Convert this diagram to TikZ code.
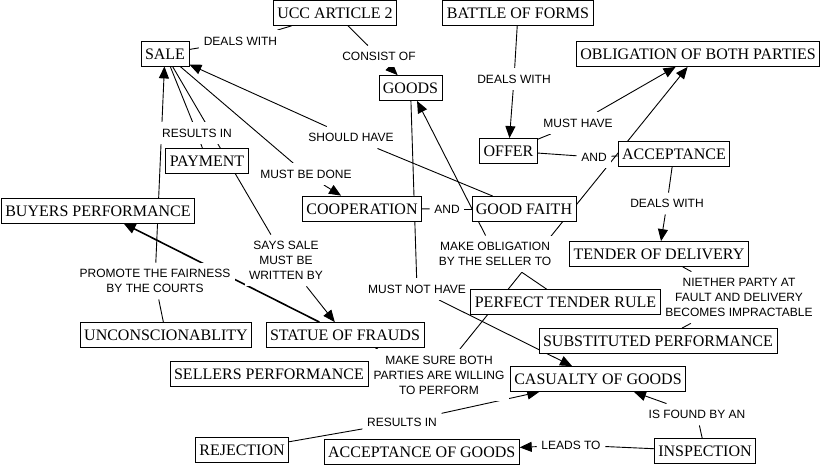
\documentclass[tikz,border=0pt]{standalone}
\usepackage{fontspec}
\setmainfont{Liberation Serif}
\newfontfamily\lblfont{Liberation Sans}
\usetikzlibrary{arrows.meta}
\pgfdeclarelayer{bg}
\pgfsetlayers{bg,main}
\begin{document}
\begin{tikzpicture}[x=1pt,y=-1pt,
  concept/.style={draw,fill=white,line width=0.8pt,font=\fontsize{16}{18}\selectfont,
    inner xsep=4pt,inner ysep=0pt,minimum height=25pt,text height=11pt,text depth=0pt},
  lbl/.style={fill=white,font=\lblfont\fontsize{12}{15}\selectfont,align=center,
    inner xsep=4.5pt,inner ysep=6.5pt},
  link/.style={line width=0.9pt},
  arr/.style={link,-{Triangle[length=12pt,width=10pt]}},
  thickarr/.style={line width=1.6pt,-{Triangle[length=12pt,width=10pt]}}]
\useasboundingbox (0,0) rectangle (825,467);
% concepts
\node[concept] (ucc) at (335,13) {UCC ARTICLE 2};
\node[concept] (sale) at (165,53.5) {SALE};
\node[concept] (goods) at (410.5,88) {GOODS};
\node[concept] (payment) at (207,161) {PAYMENT};
\node[concept] (buyers) at (98,210.5) {BUYERS PERFORMANCE};
\node[concept] (coop) at (362,208.5) {COOPERATION};
\node[concept] (gf) at (524,209) {GOOD FAITH};
\node[concept] (bof) at (518,13) {BATTLE OF FORMS};
\node[concept] (obp) at (698,54) {OBLIGATION OF BOTH PARTIES};
\node[concept] (offer) at (508.5,151) {OFFER};
\node[concept] (accept) at (674,153.5) {ACCEPTANCE};
\node[concept] (tender) at (659,254) {TENDER OF DELIVERY};
\node[concept] (ptr) at (565.5,302) {PERFECT TENDER RULE};
\node[concept] (sub) at (658,341) {SUBSTITUTED PERFORMANCE};
\node[concept] (cas) at (598,379) {CASUALTY OF GOODS};
\node[concept] (insp) at (705,451) {INSPECTION};
\node[concept] (aog) at (421.7,452) {ACCEPTANCE OF GOODS};
\node[concept] (rej) at (242,450) {REJECTION};
\node[concept] (unc) at (166,335) {UNCONSCIONABLITY};
\node[concept] (sof) at (345,335) {STATUE OF FRAUDS};
\node[concept] (sp) at (269,374) {SELLERS PERFORMANCE};
% linking phrases
\node[lbl] (l1) at (240.5,41) {DEALS WITH};
\node[lbl] (l2) at (379,56.5) {CONSIST OF};
\node[lbl] (l3) at (514,79) {DEALS WITH};
\node[lbl] (l4) at (578,123) {MUST HAVE};
\node[lbl] (l5) at (594,157) {AND};
\node[lbl] (l6) at (667,203.5) {DEALS WITH};
\node[lbl] (l7) at (197,133) {RESULTS IN};
\node[lbl] (l8) at (351,137.5) {SHOULD HAVE};
\node[lbl] (l9) at (306,174) {MUST BE DONE};
\node[lbl] (l10) at (447,209) {AND};
\node[lbl] (l11) at (286,260.5) {SAYS SALE\\MUST BE\\WRITTEN BY};
\node[lbl] (l12) at (155,281) {PROMOTE THE FAIRNESS\\BY THE COURTS};
\node[lbl] (l13) at (417,289) {MUST NOT HAVE};
\node[lbl] (l14) at (495,254) {MAKE OBLIGATION\\BY THE SELLER TO};
\node[lbl] (l15) at (739,297.5) {NIETHER PARTY AT\\FAULT AND DELIVERY\\BECOMES IMPRACTABLE};
\node[lbl] (l16) at (439,375) {MAKE SURE BOTH\\PARTIES ARE WILLING\\TO PERFORM};
\node[lbl] (l17) at (402,422) {RESULTS IN};
\node[lbl] (l18) at (697,414.5) {IS FOUND BY AN};
\node[lbl] (l19) at (571,445) {LEADS TO};
\begin{pgfonlayer}{bg}
\fill[white] (0,0) rectangle (825,467);
\draw[link] (ucc) -- (l1);
\draw[link] (l1) -- (sale);
\draw[link] (ucc) -- (l2);
\draw[arr] (l2) -- (goods);
\draw[link] (bof) -- (l3);
\draw[arr] (l3) -- (offer);
\draw[link] (offer) -- (l4);
\draw[arr] (l4) -- (obp);
\draw[link] (offer) -- (l5);
\draw[link] (l5) -- (accept);
\draw[link] (accept) -- (l6);
\draw[arr] (l6) -- (tender);
\draw[link] (tender) -- (l15);
\draw[link] (l15) -- (sub);
\draw[link] (sale) -- (l7);
\draw[link] (l7) -- (payment);
\draw[link] (sale) -- (l11);
\draw[arr] (l11) -- (sof);
\draw[link] (sale) -- (l9);
\draw[arr] (l9) -- (coop);
\draw[link] (gf) -- (l8);
\draw[arr] (l8) -- (sale);
\draw[link] (unc) -- (l12);
\draw[arr] (l12) -- (sale);
\draw[thickarr] (sof) -- (buyers);
\draw[link] (coop) -- (l10);
\draw[link] (l10) -- (gf);
\draw[link] (goods) -- (l13);
\draw[arr] (l13) -- (cas);
\draw[link] (ptr) -- (l14);
\draw[arr] (l14) -- (goods);
\draw[link] (sof) -- (l16);
\draw[arr] (l16) -- (obp);
\draw[link] (rej) -- (l17);
\draw[arr] (l17) -- (cas);
\draw[link] (insp) -- (l18);
\draw[arr] (l18) -- (cas);
\draw[link] (insp) -- (l19);
\draw[arr] (l19) -- (aog);
\end{pgfonlayer}
\end{tikzpicture}
\end{document}
